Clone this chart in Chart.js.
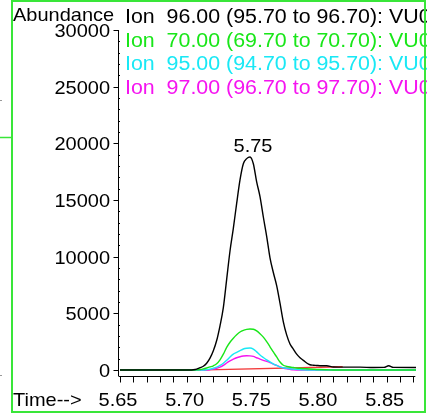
<!DOCTYPE html>
<html>
<head>
<meta charset="utf-8">
<script src="https://cdn.jsdelivr.net/npm/chart.js@4"></script>
<style>
  html, body { margin: 0; padding: 0; background: #fff; }
  canvas { display: block; }
</style>
</head>
<body>
<canvas id="tic" width="427" height="413"></canvas>
<script>
const time = [
  5.650, 5.6975, 5.700, 5.7025, 5.705, 5.7075, 5.710, 5.7125, 5.715, 5.7175,
  5.720, 5.7225, 5.725, 5.7275, 5.730, 5.7325, 5.735, 5.7375, 5.740, 5.7425,
  5.745, 5.7475, 5.750, 5.7525, 5.755, 5.7575, 5.760, 5.7625, 5.765, 5.7675,
  5.770, 5.7725, 5.775, 5.7775, 5.780, 5.7825, 5.785, 5.7875, 5.790, 5.7925,
  5.795, 5.7975, 5.800, 5.805, 5.810, 5.820, 5.830, 5.840, 5.848, 5.8515,
  5.855, 5.872,
];

const ion96 = [
  0, 0, 0, 0, 20, 80, 200, 330, 600, 1050,
  1700, 2600, 3900, 5500, 8000, 10500, 12500, 14700, 16770, 18200,
  18650, 18800, 18200, 16600, 15300, 13500, 11800, 9900, 8600, 7450,
  5900, 4250, 3100, 2300, 1850, 1400, 1080, 850, 620, 460,
  420, 400, 380, 380, 270, 250, 250, 220, 230, 380,
  230, 220,
];

const ion70 = [
  0, 0, 0, 0, 0, 10, 40, 100, 180, 270,
  370, 550, 900, 1400, 2000, 2450, 2800, 3100, 3350, 3500,
  3580, 3620, 3600, 3450, 3200, 2900, 2500, 2050, 1590, 1150,
  700, 420, 320, 260, 220, 180, 150, 130, 110, 90,
  70, 50, 40, 20, 0, 0, 0, 0, 0, 0,
  0, 0,
];

const ion95 = [
  0, 0, 0, 0, 0, 0, 0, 0, 30, 80,
  150, 250, 400, 600, 850, 1150, 1400, 1550, 1700, 1850,
  1920, 1940, 1850, 1600, 1320, 1100, 900, 720, 550, 400,
  260, 200, 150, 110, 80, 50, 30, 10, 0, 0,
  0, 0, 0, 0, 0, 0, 0, 0, 0, 0,
  0, 0,
];

const ion97 = [
  0, 0, 0, 0, 0, 0, 0, 0, 0, 30,
  80, 150, 250, 400, 620, 800, 950, 1080, 1170, 1230,
  1260, 1250, 1200, 1080, 960, 850, 760, 650, 520, 400,
  280, 170, 100, 50, 10, 0, 0, 0, 0, 0,
  0, 0, 0, 0, 0, 0, 0, 0, 0, 0,
  0, 0,
];

// linea di base dell'integrazione (rossa)
const baseTime   = [5.713, 5.817];
const baseValues = [0, 280];

const yTicks      = [0, 5000, 10000, 15000, 20000, 25000, 30000];
const xTickLabels = ['5.65', '5.70', '5.75', '5.80', '5.85'];
const legendLines = [
  'Ion  96.00 (95.70 to 96.70): VU0',
  'Ion  70.00 (69.70 to 70.70): VU0',
  'Ion  95.00 (94.70 to 95.70): VU0',
  'Ion  97.00 (96.70 to 97.70): VU0',
];
const peakTime  = 5.7475;
const peakLabel = '5.75';

const COLORS = ['#000000', '#19e619', '#19e8f5', '#f514f0'];
const RED = '#f23a3a';
const FRAME = '#39e639';
const FONT = '"Liberation Sans", Arial, sans-serif';

const pts = vals => vals.map((v, i) => ({ x: time[i], y: v }));

// ── Assi, testi e cornice disegnati a mano ───────────────────────────────────
const decor = {
  id: 'decor',
  afterDraw(chart) {
    const c = chart.ctx;
    const xs = chart.scales.x, ys = chart.scales.y;
    const area = chart.chartArea;

    const text = (s, x, y, color, align, size) => {
      c.save();
      c.translate(x, y);
      c.scale(1, 0.92);
      c.font = `${size || 20}px ${FONT}`;
      c.fillStyle = color || '#000';
      c.textAlign = align || 'left';
      c.textBaseline = 'alphabetic';
      c.fillText(s, 0, 0);
      c.restore();
    };

    c.save();
    c.strokeStyle = '#000';
    c.lineWidth = 1;

    // asse y
    const axX = area.left - 1.5;
    c.beginPath();
    c.moveTo(axX, ys.getPixelForValue(30000));
    c.lineTo(axX, area.bottom);
    c.stroke();
    for (let v = 0; v <= 30000; v += 1000) {
      const y = Math.round(ys.getPixelForValue(v)) + 0.5;
      c.beginPath();
      if (v % 5000 === 0) { c.moveTo(axX - 5, y); c.lineTo(axX, y); }
      else { c.moveTo(axX, y); c.lineTo(axX + 1.5, y); }
      c.stroke();
    }
    yTicks.forEach(v => {
      text(String(v), 110, ys.getPixelForValue(v) + 7, '#000', 'right');
    });

    // asse x
    const axY = area.bottom + 0.5;
    c.beginPath();
    c.moveTo(axX, axY);
    c.lineTo(xs.getPixelForValue(5.8715), axY);
    c.stroke();
    for (let i = 0; i <= 22; i++) {
      const x = Math.round(xs.getPixelForValue(5.65 + i * 0.01)) + 0.5;
      c.beginPath();
      c.moveTo(x, axY);
      c.lineTo(x, axY + 6);
      c.stroke();
    }
    xTickLabels.forEach(l => {
      text(l, xs.getPixelForValue(parseFloat(l)) - 2, 406, '#000', 'center');
    });
    c.restore();

    text('Abundance', 13, 21);
    text('Time-->', 13, 406);
    legendLines.forEach((l, i) => {
      text(l, 125, 23 + i * 23.7, COLORS[i], 'left', 21.4);
    });
    text(peakLabel, xs.getPixelForValue(peakTime) + 3, 152, '#000', 'center');

    // cornice verde
    c.save();
    c.strokeStyle = FRAME;
    c.lineWidth = 2;
    c.strokeRect(12, 1, 413, 411);
    c.lineWidth = 1.5;
    c.beginPath();
    c.moveTo(0, 137.5);
    c.lineTo(11, 137.5);
    c.stroke();
    c.fillStyle = '#999';
    c.fillRect(0, 100, 2, 1);
    c.fillRect(0, 375, 2, 1);
    c.restore();
  },
};

const line = (data, color) => ({
  data,
  borderColor: color,
  borderWidth: 1.4,
  pointRadius: 0,
  fill: false,
  cubicInterpolationMode: 'monotone',
});

new Chart(document.getElementById('tic'), {
  type: 'line',
  data: {
    datasets: [
      line(pts(ion96), COLORS[0]),
      line(pts(ion70), COLORS[1]),
      line(pts(ion95), COLORS[2]),
      line(pts(ion97), COLORS[3]),
      line(baseTime.map((t, i) => ({ x: t, y: baseValues[i] })), RED),
    ],
  },
  options: {
    responsive: false,
    animation: false,
    layout: { padding: { left: 120, right: 11, top: 30, bottom: 37 } },
    scales: {
      x: { type: 'linear', display: false, min: 5.65, max: 5.872 },
      y: { display: false, min: -530, max: 30000 },
    },
    plugins: { legend: { display: false }, tooltip: { enabled: false } },
  },
  plugins: [decor],
});
</script>
</body>
</html>
